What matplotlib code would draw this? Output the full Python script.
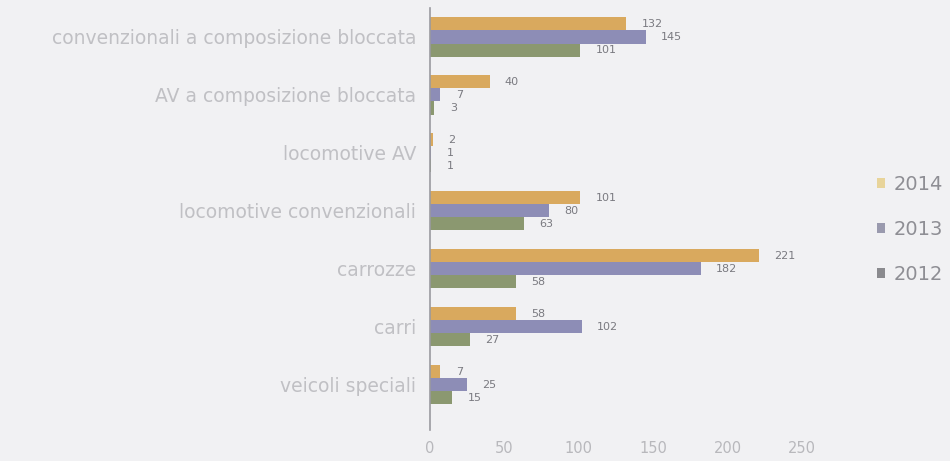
import matplotlib
matplotlib.use("Agg")
import matplotlib.pyplot as plt
import numpy as np
from matplotlib.patches import Patch

categories = ["convenzionali a composizione bloccata", "AV a composizione bloccata",
              "locomotive AV", "locomotive convenzionali", "carrozze", "carri",
              "veicoli speciali"]
years = ["2014", "2013", "2012"]
v2014 = [132, 40, 2, 101, 221, 58, 7]
v2013 = [145, 7, 1, 80, 182, 102, 25]
v2012 = [101, 3, 1, 63, 58, 27, 15]
xticks = [0, 50, 100, 150, 200, 250]

colors = ["#d9a95e", "#8d8db6", "#8b9870"]
legend_colors = ["#e8d49a", "#9a9aae", "#8a8a8e"]
bg = "#f1f1f3"

fig = plt.figure(figsize=(9.5, 4.61), dpi=100, facecolor=bg)
ax = fig.add_axes([430/950, 1-430/461, 372/950, 422/461])
ax.set_facecolor(bg)

h = 0.225
y = np.arange(len(categories))
series = [v2014, v2013, v2012]
for i, (vals, c) in enumerate(zip(series, colors)):
    yy = y + (i - 1) * h
    ax.barh(yy, vals, height=h, color=c, edgecolor="none")
    for yv, v in zip(yy, vals):
        if v == 0:
            continue
        ax.annotate(str(v), (v, yv), xytext=(11, 0), textcoords="offset points",
                    ha="left", va="center", fontsize=8, color="#7a7a80")

ax.set_yticks(y)
ax.set_yticklabels(categories, fontsize=13.5, color="#c0c0c4")
ax.set_ylim(6.78, -0.5)
ax.set_xlim(0, 250)
ax.set_xticks(xticks)
ax.set_xticklabels([str(t) for t in xticks], fontsize=10.5, color="#b8b8bc")
ax.tick_params(axis="y", length=0, pad=10)
ax.tick_params(axis="x", length=0, pad=8)
for s in ["top", "right", "bottom"]:
    ax.spines[s].set_visible(False)
ax.spines["left"].set_color("#9a9aa0")
ax.spines["left"].set_linewidth(1.2)

handles = [Patch(facecolor=c, edgecolor="none") for c in legend_colors]
leg = fig.legend(handles, years, loc="upper left", bbox_to_anchor=(0.915, 0.638),
                 frameon=False, fontsize=14, handlelength=0.4, handleheight=0.4,
                 handletextpad=0.45, labelspacing=1.35, borderaxespad=0)
for t in leg.get_texts():
    t.set_color("#8e8e94")

fig.savefig("out.png", dpi=100, facecolor=bg)
